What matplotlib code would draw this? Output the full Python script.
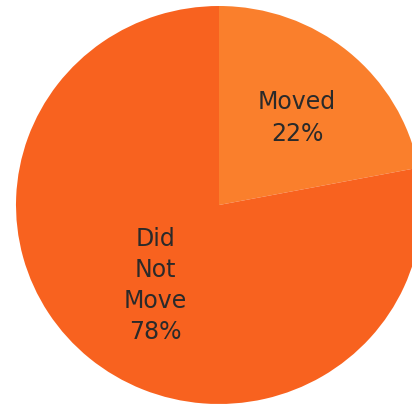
import matplotlib
matplotlib.use("Agg")
import matplotlib.pyplot as plt

categories = ["Moved", "Did\nNot\nMove"]
shares = [22, 78]
colors = ["#FA7F2C", "#F8621F"]

fig = plt.figure(figsize=(4.12, 4.12), dpi=100)
ax = fig.add_axes([16/412, 8/412, 406/412, 398/412])
labels = [f"{c}\n{v}%" for c, v in zip(categories, shares)]
wedges, texts = ax.pie(shares, labels=labels, colors=colors, startangle=90,
                       counterclock=False, labeldistance=0.56, radius=1.0,
                       wedgeprops=dict(linewidth=0),
                       textprops=dict(fontsize=17, color="#2a2a2a",
                                      ha="center", va="center",
                                      linespacing=1.38))
# label placement within wedges
texts[0].set_position((0.385, 0.437))
texts[1].set_position((-0.315, -0.405))
ax.set_xlim(-1, 1)
ax.set_ylim(-1, 1)
ax.set_aspect("auto")
ax.axis("off")
fig.savefig("out.png", dpi=100, facecolor="white")
